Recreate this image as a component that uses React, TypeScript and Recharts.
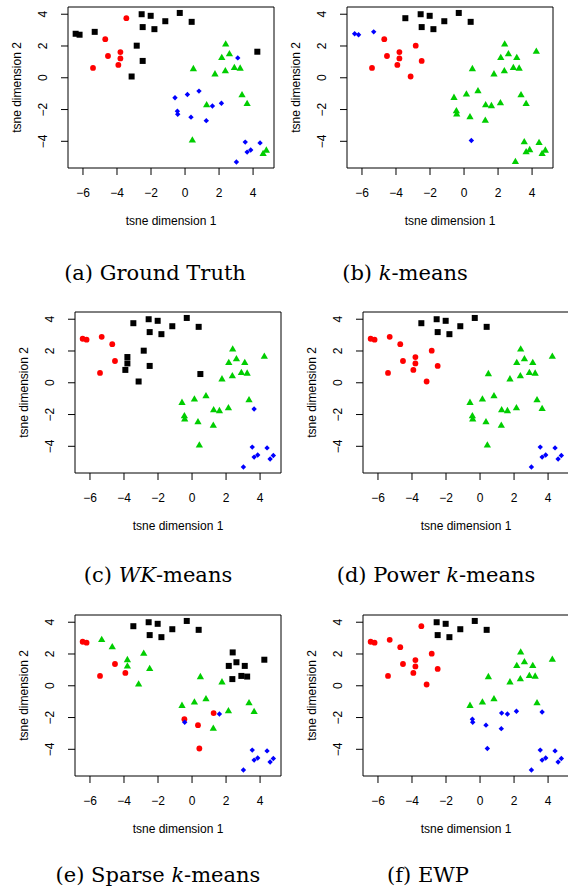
import React from 'react';
import { ScatterChart, Scatter, XAxis, YAxis, ReferenceArea } from 'recharts';

// t-SNE embedding coordinates of the 50 samples (same in every panel)
const pointX = [-6.43, -6.2, -5.31, -2.55, -2.02, -2.49, -1.8, -1.16, -0.31, 0.39, -2.84, -2.49, -3.14, 4.25, -3.45, -4.69, -4.53, -5.41, -3.8, -3.8, -3.92, 2.39, 2.61, 2.16, 0.49, 1.76, 2.37, 2.9, 3.24, 3.35, 3.65, 1.27, 0.43, 4.59, 4.78, 3.1, -0.59, 0.14, 0.82, -0.45, -0.43, 0.35, 1.61, 2.14, 1.25, 3.54, 4.41, 3.65, 3.86, 3.02];
const pointY = [2.77, 2.71, 2.89, 4.0, 3.9, 3.19, 3.06, 3.56, 4.08, 3.52, 2.02, 1.06, 0.08, 1.64, 3.75, 2.43, 1.37, 0.62, 1.62, 1.22, 0.81, 2.1, 1.48, 1.25, 0.55, 0.22, 0.42, 0.62, 0.58, -1.1, -1.65, -1.72, -3.95, -4.8, -4.58, 1.25, -1.26, -1.05, -0.84, -2.1, -2.3, -2.48, -1.78, -1.6, -2.7, -4.05, -4.1, -4.68, -4.55, -5.3];

// cluster labels per method (K = black square, R = red circle, G = green triangle, B = blue diamond)
const labelsGroundTruth = 'KKKKKKKKKKKKKKRRRRRRRGGGGGGGGGGGGGGBBBBBBBBBBBBBBB';
const labelsKMeans = 'BBBKKKKKKKRRRGKRRRRRRGGGGGGGGGGGBGGGGGGGGGGGGGGGGG';
const labelsWKMeans = 'RRRKKKKKKKKKKGKRRRKKKGGGKGGGGGBGGBBGGGGGGGGGGBBBBB';
const labelsPowerKMeans = 'RRRKKKKKKKRRRGKRRRRRRGGGGGGGGGGGGBBGGGGGGGGGGBBBBB';
const labelsSparseKMeans = 'RRGKKKKKKKGGGKKGRRGGRKKKGGKKKGGRRBBKGGGRBRBGGBBBBB';
const labelsEWP = 'RRRKKKKKKKRRRGRRRRRRRGGGGGGGGGBBBBBGGGGBBBBBBBBBBB';

const xTicks = [-6, -4, -2, 0, 2, 4];
const yTicks = [-4, -2, 0, 2, 4];
const xDomain: [number, number] = [-6.88, 5.23];
const yDomain: [number, number] = [-5.68, 4.455];

const SANS = '"Liberation Sans", Arial, Helvetica, sans-serif';
const SERIF = '"DejaVu Serif", serif';

const PADL = 70, PADT = 8, PADR = 10, PADB = 70;
const PW = 206, PH = 161;
const YW = 40, XH = 30;
const CW = PADL + PW + PADR, CH = PADT + PH + PADB;

const colors: Record<string, string> = { K: '#000000', R: '#FF0000', G: '#00CD00', B: '#0000FF' };

const fmt = (v: number) => (v < 0 ? '\u2212' + Math.abs(v) : String(v));

const markSquare = (c: string) => (p: any) => (
  <rect x={p.cx - 3} y={p.cy - 3} width={6} height={6} fill={c} />
);
const markCircle = (c: string) => (p: any) => <circle cx={p.cx} cy={p.cy} r={2.9} fill={c} />;
const markTriangle = (c: string) => (p: any) => {
  const r = 4.2;
  const hw = r * 0.866;
  return (
    <polygon
      points={`${p.cx},${p.cy - r} ${p.cx + hw},${p.cy + r / 2} ${p.cx - hw},${p.cy + r / 2}`}
      fill={c}
    />
  );
};
const markDiamond = (c: string) => (p: any) => {
  const r = 2.7;
  return (
    <polygon
      points={`${p.cx},${p.cy - r} ${p.cx + r},${p.cy} ${p.cx},${p.cy + r} ${p.cx - r},${p.cy}`}
      fill={c}
    />
  );
};
const shapes: Record<string, (c: string) => (p: any) => React.ReactElement> = {
  K: markSquare,
  R: markCircle,
  G: markTriangle,
  B: markDiamond,
};

const XTick = (props: any) => {
  const { x, payload } = props;
  return (
    <text x={x} y={PADT + PH + 28.5} textAnchor="middle" fontSize={12} fontFamily={SANS} fill="#000">
      {fmt(payload.value)}
    </text>
  );
};

const YTick = (props: any) => {
  const { y, payload } = props;
  const cx = PADL - 25;
  return (
    <text
      x={cx}
      y={y}
      dy="0.36em"
      transform={`rotate(-90 ${cx} ${y})`}
      textAnchor="middle"
      fontSize={12}
      fontFamily={SANS}
      fill="#000"
    >
      {fmt(payload.value)}
    </text>
  );
};

const XTitle = () => (
  <text x={PADL + PW / 2} y={PADT + PH + 57} textAnchor="middle" fontSize={12} fontFamily={SANS} fill="#000">
    tsne dimension 1
  </text>
);

const YTitle = () => {
  const cx = PADL - 51;
  const cy = PADT + PH / 2;
  return (
    <text
      x={cx}
      y={cy}
      dy="0.36em"
      transform={`rotate(-90 ${cx} ${cy})`}
      textAnchor="middle"
      fontSize={12}
      fontFamily={SANS}
      fill="#000"
    >
      tsne dimension 2
    </text>
  );
};

function Panel({ labels, left, top }: { labels: string; left: number; top: number }) {
  const groups = ['K', 'R', 'G', 'B'];
  const all = pointX.map((x, i) => ({ x, y: pointY[i], c: labels[i] }));
  return (
    <div style={{ position: 'absolute', left: left - PADL, top: top - PADT }}>
      <ScatterChart
        width={CW}
        height={CH}
        margin={{ top: PADT, right: PADR, bottom: PADB - XH, left: PADL - YW }}
      >
        <XAxis
          type="number"
          dataKey="x"
          domain={xDomain}
          ticks={xTicks}
          interval={0}
          allowDataOverflow
          height={XH}
          tickSize={7}
          tickLine={{ stroke: '#000', strokeWidth: 1 }}
          axisLine={false}
          tick={XTick}
          label={{ content: XTitle }}
        />
        <YAxis
          type="number"
          dataKey="y"
          domain={yDomain}
          ticks={yTicks}
          interval={0}
          allowDataOverflow
          width={YW}
          tickSize={7}
          tickLine={{ stroke: '#000', strokeWidth: 1 }}
          axisLine={false}
          tick={YTick}
          label={{ content: YTitle }}
        />
        <ReferenceArea
          x1={xDomain[0]}
          x2={xDomain[1]}
          y1={yDomain[0]}
          y2={yDomain[1]}
          fill="none"
          fillOpacity={0}
          stroke="#000"
          strokeWidth={1}
          ifOverflow="visible"
        />
        {groups.map((g) => (
          <Scatter
            key={g}
            data={all.filter((d) => d.c === g)}
            fill={colors[g]}
            shape={shapes[g](colors[g])}
            isAnimationActive={false}
          />
        ))}
      </ScatterChart>
    </div>
  );
}

const Caption = ({ x, y, children }: { x: number; y: number; children: React.ReactNode }) => (
  <text x={x} y={y} textAnchor="middle" fontSize={21} fontFamily={SERIF} fill="#000">
    {children}
  </text>
);

export default function App() {
  return (
    <div
      style={{
        position: 'absolute',
        left: 0,
        top: 0,
        width: 568,
        height: 890,
        overflow: 'hidden',
        background: '#fff',
      }}
    >
      <Panel labels={labelsGroundTruth} left={68.3} top={7.3} />
      <Panel labels={labelsKMeans} left={347.3} top={7.3} />
      <Panel labels={labelsWKMeans} left={75} top={311.7} />
      <Panel labels={labelsPowerKMeans} left={363.3} top={311.7} />
      <Panel labels={labelsSparseKMeans} left={75} top={614.7} />
      <Panel labels={labelsEWP} left={363.3} top={614.7} />
      <svg
        width={568}
        height={890}
        style={{ position: 'absolute', left: 0, top: 0, pointerEvents: 'none' }}
      >
        <Caption x={155} y={279.5}>(a) Ground Truth</Caption>
        <Caption x={405} y={279.5}>
          (b) <tspan fontStyle="italic">k</tspan>-means
        </Caption>
        <Caption x={158} y={581.7}>
          (c) <tspan fontStyle="italic">WK</tspan>-means
        </Caption>
        <Caption x={436} y={581.7}>
          (d) Power <tspan fontStyle="italic">k</tspan>-means
        </Caption>
        <Caption x={158} y={882}>
          (e) Sparse <tspan fontStyle="italic">k</tspan>-means
        </Caption>
        <Caption x={428} y={882}>(f) EWP</Caption>
      </svg>
    </div>
  );
}
